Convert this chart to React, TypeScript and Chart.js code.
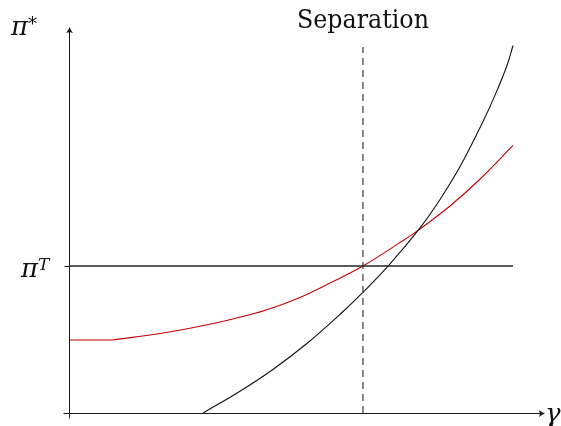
import React, { useEffect, useRef } from "react";
import { Chart, registerables } from "chart.js";

Chart.register(...registerables);

// gamma (x) and pi* (y) values
const redGamma = [0, 0.99, 2.05, 2.95, 3.69, 4.46, 5.2, 5.95, 6.62, 7.45, 7.91, 8.58, 9.26, 10];
const redPi = [0.497, 0.497, 0.541, 0.59, 0.64, 0.703, 0.786, 0.895, 1.0, 1.159, 1.253, 1.408, 1.592, 1.82];

const blackGamma = [3.02, 3.85, 4.6, 5.35, 6.1, 6.63, 7.21, 7.91, 8.36, 8.81, 9.33, 9.59, 9.86, 10];
const blackPi = [0, 0.148, 0.298, 0.471, 0.67, 0.824, 1.007, 1.261, 1.454, 1.678, 1.987, 2.159, 2.361, 2.5];

const targetPi = 1; // pi^T
const targetRange = [0, 10];
const separationGamma = 6.62;
const separationTop = 2.49;
const xMax = 10.72;
const yMax = 2.626;

const SERIF = '"DejaVu Serif", "Liberation Serif", serif';

function drawArrow(ctx: CanvasRenderingContext2D, x: number, y: number, dir: "right" | "up") {
  ctx.save();
  ctx.translate(x, y);
  if (dir === "up") ctx.rotate(-Math.PI / 2);
  ctx.beginPath();
  ctx.moveTo(0, 0);
  ctx.quadraticCurveTo(-3, -1, -6, -3.5);
  ctx.quadraticCurveTo(-4.5, 0, -6, 3.5);
  ctx.quadraticCurveTo(-3, 1, 0, 0);
  ctx.closePath();
  ctx.fillStyle = "#1a1a1a";
  ctx.fill();
  ctx.restore();
}

const axesPlugin = {
  id: "axesPlugin",
  afterDatasetsDraw(chart: any) {
    const ctx: CanvasRenderingContext2D = chart.ctx;
    const xs = chart.scales.x;
    const ys = chart.scales.y;
    const x0 = Math.round(xs.getPixelForValue(0)) + 0.5;
    const y0 = Math.round(ys.getPixelForValue(0)) + 0.5;
    const xEnd = xs.getPixelForValue(xMax);
    const yEnd = ys.getPixelForValue(yMax);
    const yT = Math.round(ys.getPixelForValue(targetPi)) + 0.5;

    ctx.save();
    ctx.strokeStyle = "#1a1a1a";
    ctx.lineWidth = 1;
    ctx.beginPath();
    ctx.moveTo(x0 - 6, y0);
    ctx.lineTo(xEnd - 2, y0);
    ctx.stroke();
    ctx.beginPath();
    ctx.moveTo(x0, y0 + 5);
    ctx.lineTo(x0, yEnd + 2);
    ctx.stroke();
    ctx.beginPath();
    ctx.moveTo(x0 - 5, yT);
    ctx.lineTo(x0, yT);
    ctx.stroke();
    drawArrow(ctx, xEnd, y0, "right");
    drawArrow(ctx, x0, yEnd, "up");

    ctx.fillStyle = "#111";
    ctx.textBaseline = "alphabetic";
    ctx.font = `26px ${SERIF}`;
    ctx.textAlign = "center";
    ctx.fillText("Separation", xs.getPixelForValue(separationGamma), 28, 132);

    ctx.textAlign = "left";
    ctx.font = `italic 26px ${SERIF}`;
    ctx.fillText("π", 11, 35);
    ctx.font = `18px ${SERIF}`;
    ctx.fillText("*", 28, 30);
    ctx.font = `italic 26px ${SERIF}`;
    ctx.fillText("π", 21, ys.getPixelForValue(targetPi) + 11);
    ctx.font = `italic 17px ${SERIF}`;
    ctx.fillText("T", 38, ys.getPixelForValue(targetPi) + 4);
    ctx.font = `italic 26px ${SERIF}`;
    ctx.fillText("γ", 545, y0 + 8);
    ctx.restore();
  },
};

export default function App() {
  const ref = useRef<HTMLCanvasElement | null>(null);

  useEffect(() => {
    if (!ref.current) return;
    const red = "#c40000";
    const chart = new Chart(ref.current, {
      type: "line",
      data: {
        datasets: [
          {
            label: "pi^T",
            data: targetRange.map((g) => ({ x: g, y: targetPi })),
            borderColor: "#222",
            borderWidth: 1.3,
            pointRadius: 0,
          },
          {
            label: "Separation",
            data: [
              { x: separationGamma, y: 0 },
              { x: separationGamma, y: separationTop },
            ],
            borderColor: "#555",
            borderWidth: 1.4,
            borderDash: [7, 5],
            pointRadius: 0,
          },
          {
            label: "black",
            data: blackGamma.map((g, i) => ({ x: g, y: blackPi[i] })),
            borderColor: "#111",
            borderWidth: 1.1,
            pointRadius: 0,
            tension: 0.4,
          },
          {
            label: "red flat",
            data: redGamma.slice(0, 2).map((g, i) => ({ x: g, y: redPi[i] })),
            borderColor: red,
            borderWidth: 1.1,
            pointRadius: 0,
            tension: 0,
          },
          {
            label: "red",
            data: redGamma.slice(1).map((g, i) => ({ x: g, y: redPi[i + 1] })),
            borderColor: red,
            borderWidth: 1.1,
            pointRadius: 0,
            tension: 0.4,
          },
        ],
      },
      options: {
        responsive: false,
        animation: false,
        devicePixelRatio: 1,
        layout: { padding: { left: 69, right: 16, top: 27, bottom: 13 } },
        plugins: { legend: { display: false }, tooltip: { enabled: false } },
        scales: {
          x: { type: "linear", min: 0, max: xMax, display: false },
          y: { type: "linear", min: 0, max: yMax, display: false },
        },
      },
      plugins: [axesPlugin],
    } as any);
    return () => chart.destroy();
  }, []);

  return (
    <div style={{ position: "absolute", left: 0, top: 0, width: 561, height: 426 }}>
      <canvas ref={ref} width={561} height={426} />
    </div>
  );
}
